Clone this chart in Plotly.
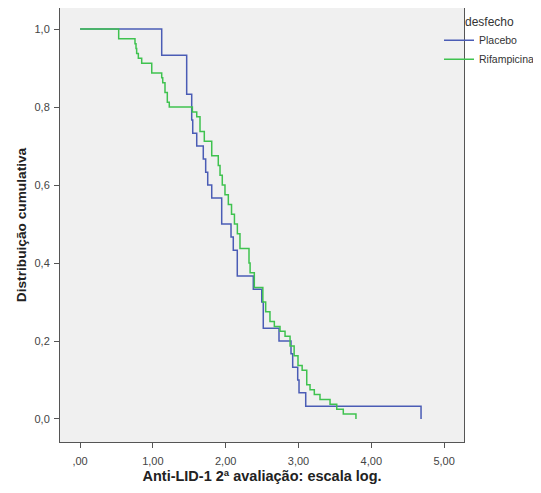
import plotly.graph_objects as go

# Placebo: step positions (log scale) and cumulative levels after each step
placebo_x = [0.0, 1.121, 1.464, 1.533, 1.547, 1.602, 1.692, 1.725, 1.753, 1.808,
             1.945, 2.073, 2.104, 2.159, 2.379, 2.495, 2.516, 2.732, 2.897, 2.92,
             2.989, 3.007, 3.099, 4.683]
placebo_y = [1.0, 0.933, 0.833, 0.767, 0.733, 0.700, 0.667, 0.633, 0.600, 0.567,
             0.500, 0.467, 0.433, 0.367, 0.333, 0.300, 0.233, 0.200, 0.167, 0.133,
             0.100, 0.067, 0.033, 0.0]

# Rifampicina
rif_x = [0.0, 0.53, 0.754, 0.768, 0.777, 0.80, 0.846, 0.984, 1.121, 1.135,
         1.166, 1.198, 1.225, 1.542, 1.602, 1.647, 1.706, 1.808, 1.898, 1.922,
         1.953, 1.99, 2.036, 2.08, 2.12, 2.16, 2.196, 2.32, 2.335, 2.393,
         2.51, 2.549, 2.608, 2.668, 2.746, 2.815, 2.884, 2.94, 2.993, 3.05,
         3.113, 3.158, 3.217, 3.295, 3.433, 3.525, 3.615, 3.789]
rif_y = [1.0, 0.975, 0.9625, 0.95, 0.9375, 0.925, 0.9125, 0.8875, 0.875, 0.8625,
         0.8375, 0.8125, 0.8, 0.7875, 0.775, 0.7375, 0.7125, 0.675, 0.65, 0.625,
         0.6, 0.575, 0.55, 0.525, 0.5, 0.475, 0.4375, 0.4, 0.375, 0.3375,
         0.3, 0.275, 0.25, 0.2375, 0.225, 0.2125, 0.1875, 0.1625, 0.1375, 0.125,
         0.0875, 0.075, 0.0625, 0.05, 0.0375, 0.025, 0.0125, 0.0]

x_tickvals = [0, 1, 2, 3, 4, 5]
x_ticktext = [",00", "1,00", "2,00", "3,00", "4,00", "5,00"]
y_tickvals = [0, 0.2, 0.4, 0.6, 0.8, 1.0]
y_ticktext = ["0,0", "0,2", "0,4", "0,6", "0,8", "1,0"]

FONT = "Liberation Sans, Arial, sans-serif"

# the page body has an 8px default margin, so the figure is sized to fit the window
W, H = 533, 485
ML, MR, MT, MB = 52, 77, 0, 51

fig = go.Figure()
fig.add_trace(go.Scatter(x=placebo_x, y=placebo_y, mode="lines", name="Placebo",
                         line=dict(color="#4a5cb5", width=1.5, shape="hv")))
fig.add_trace(go.Scatter(x=rif_x, y=rif_y, mode="lines", name="Rifampicina",
                         line=dict(color="#3fc24f", width=1.5, shape="hv")))

axis_common = dict(showline=True, linecolor="#555555", linewidth=1, mirror=True,
                   ticks="outside", ticklen=5, tickcolor="#555555", showgrid=False,
                   zeroline=False, automargin=False,
                   tickfont=dict(family=FONT, size=11, color="#444444"))

plot_w = W - ML - MR
fig.update_layout(
    width=W, height=H,
    margin=dict(l=ML, r=MR, t=MT, b=MB, pad=0),
    paper_bgcolor="white", plot_bgcolor="#f0f0f0",
    font=dict(family=FONT, size=11, color="#333333"),
    xaxis=dict(range=[-0.276, 5.273], tickvals=x_tickvals, ticktext=x_ticktext,
               ticklabelstandoff=4,
               title=dict(text="<b>Anti-LID-1 2ª avaliação: escala log.</b>",
                          font=dict(family=FONT, size=14.5, color="#222222"), standoff=4),
               **axis_common),
    yaxis=dict(range=[-0.059, 1.054], tickvals=y_tickvals, ticktext=y_ticktext,
               ticklabelstandoff=2,
               title=dict(text="<b>Distribuição cumulativa</b>",
                          font=dict(family=FONT, size=13.7, color="#222222"), standoff=4),
               **axis_common),
    legend=dict(x=(W - 1 - ML) / plot_w, xanchor="right", y=0.995, yanchor="top",
                bgcolor="rgba(0,0,0,0)", borderwidth=0, itemwidth=30,
                font=dict(family=FONT, size=10.5, color="#333333"),
                title=dict(text="desfecho", side="top center",
                           font=dict(family=FONT, size=12, color="#333333"))),
    showlegend=True,
)

fig.write_html("out.html")
